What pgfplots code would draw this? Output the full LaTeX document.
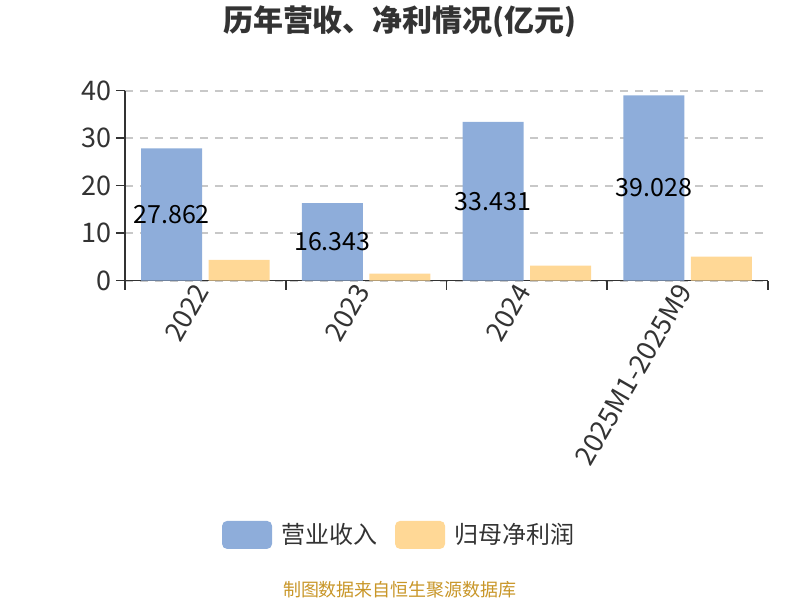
\documentclass[border=0pt]{standalone}
\usepackage{pgfplots}
\pgfplotsset{compat=1.18}
\usepackage{fontspec}
\setmainfont{Noto Sans CJK SC}
\definecolor{cblue}{RGB}{142,173,218}
\definecolor{corange}{RGB}{255,216,150}
\definecolor{axgray}{RGB}{51,51,51}
\definecolor{gridgray}{RGB}{200,200,200}
\definecolor{srcgold}{RGB}{200,150,40}
\begin{document}
\begin{tikzpicture}[x=1pt,y=1pt]
\path[use as bounding box] (0,0) rectangle (400,300);
\begin{axis}[
  at={(62.5pt,159.65pt)}, anchor=south west,
  width=321.5pt, height=95pt, scale only axis,
  xmin=-0.5, xmax=3.5, ymin=0, ymax=40,
  axis x line*=bottom, axis y line*=left,
  axis line style={axgray, line width=0.8pt, -},
  every outer x axis line/.append style={-},
  every outer y axis line/.append style={-},
  ytick={0,10,20,30,40},
  ymajorgrids, grid style={gridgray, dash pattern=on 4pt off 3.5pt, line width=0.9pt},
  tick style={axgray, line width=0.8pt},
  tick align=outside, major tick length=4.5pt,
  xtick={-0.5,0.5,1.5,2.5,3.5}, xticklabels={},
  extra x ticks={0,1,2,3},
  extra x tick labels={2022,2023,2024,2025M1-2025M9},
  extra x tick style={major tick length=0pt, grid=none,
     xticklabel style={rotate=60, anchor=east}},
  tick label style={font=\fontsize{13.5}{13.5}\selectfont, text=axgray},
  yticklabel style={xshift=1.5pt},
  /pgf/number format/assume math mode=true,
  legend style={at={(0.141,-1.338)}, anchor=west, draw=none, fill=none,
     legend columns=2, font=\fontsize{12}{12}\selectfont, text=axgray,
     /tikz/every odd column/.append style={column sep=2.5pt},
     /tikz/every even column/.append style={column sep=7pt}},
  legend cell align=left,
]
\addplot[ybar, bar width=0.38, bar shift=-0.21, fill=cblue, draw=none,
  legend image code/.code={\fill[cblue, rounded corners=2.5pt] (0pt,-7pt) rectangle (25pt,7pt);}]
  coordinates {(0,27.862) (1,16.343) (2,33.431) (3,39.028)};
\addlegendentry{营业收入}
\addplot[ybar, bar width=0.38, bar shift=0.21, fill=corange, draw=none,
  legend image code/.code={\fill[corange, rounded corners=2.5pt] (0pt,-7pt) rectangle (25pt,7pt);}]
  coordinates {(0,4.36) (1,1.47) (2,3.16) (3,5.05)};
\addlegendentry{归母净利润}
\addplot[draw=none, mark=none, forget plot, nodes near coords, point meta=explicit symbolic,
  every node near coord/.append style={anchor=center, font=\fontsize{12.5}{12.5}\selectfont, text=black}]
  coordinates {(-0.21,13.931)[27.862] (0.79,8.1715)[16.343] (1.79,16.7155)[33.431] (2.79,19.514)[39.028]};
\end{axis}
\node[font=\fontsize{15}{15}\selectfont\bfseries, text=axgray] at (200,289) {历年营收、净利情况(亿元)};
\node[font=\fontsize{9}{9}\selectfont, text=srcgold] at (200,5) {制图数据来自恒生聚源数据库};
\end{tikzpicture}
\end{document}
